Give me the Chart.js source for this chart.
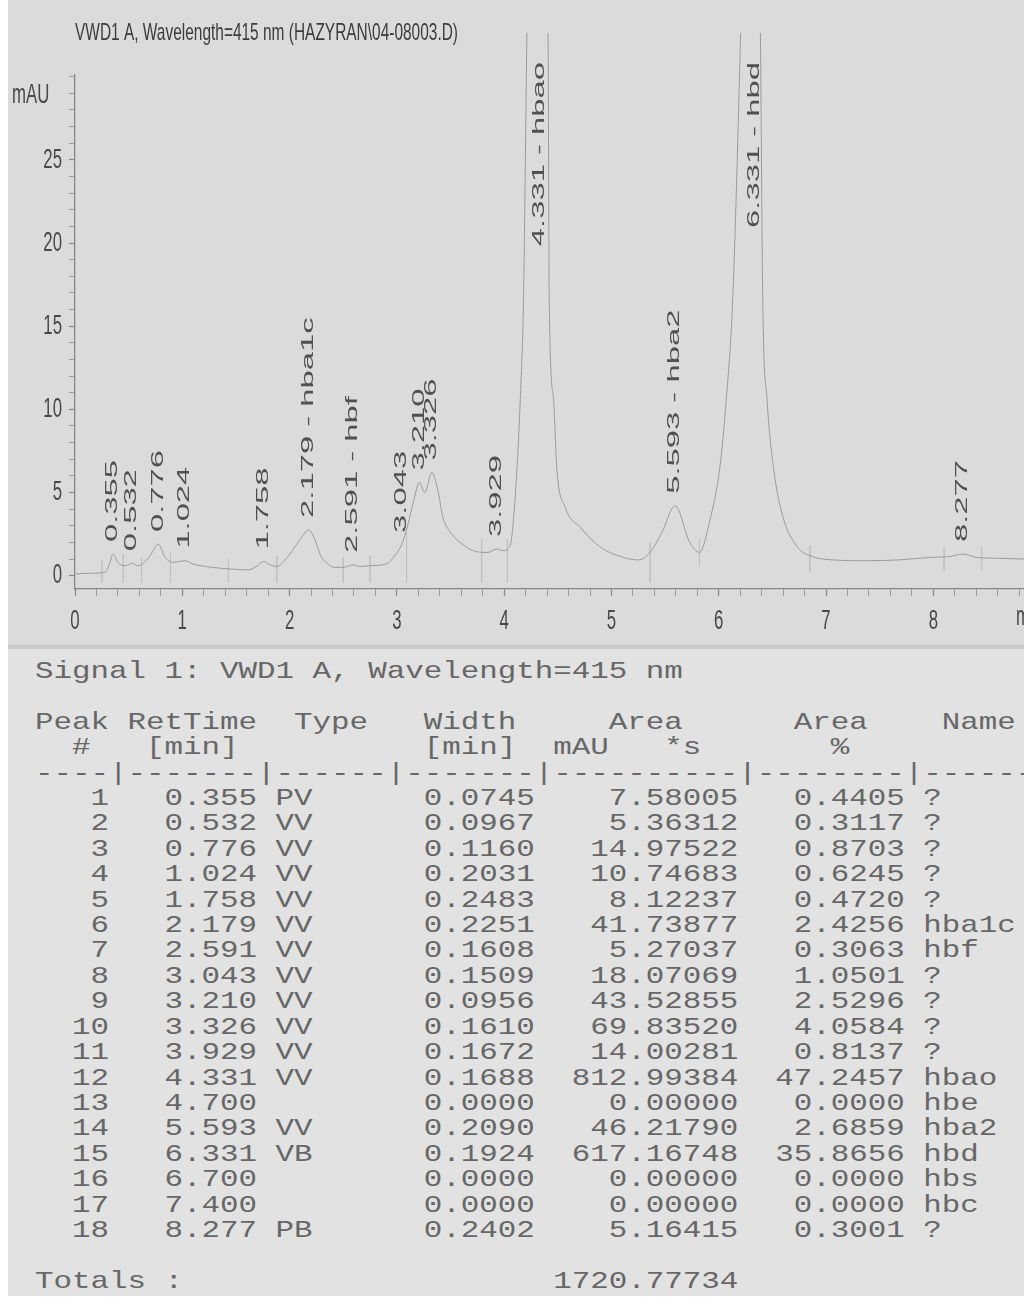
<!DOCTYPE html>
<html>
<head>
<meta charset="utf-8">
<script src="https://cdn.jsdelivr.net/npm/chart.js@4.4.1/dist/chart.umd.min.js"></script>
<style>
  html, body { margin: 0; padding: 0; background: #ffffff; }
  body { width: 1024px; height: 1300px; position: relative; overflow: hidden; }
  #paperTop { position: absolute; left: 8px; top: 0; width: 1016px; height: 648px; background: #dbdbdb; }
  #paperBottom { position: absolute; left: 8px; top: 648px; width: 1016px; height: 648px; background: #e2e2e2; }
  #fold { position: absolute; left: 8px; top: 645px; width: 1016px; height: 4px; background: #cbcbcb; }
  #chartWrap { position: absolute; left: 0; top: 0; width: 1024px; height: 650px; }
  #report { position: absolute; left: 35px; top: 659px; margin: 0; font-family: "Liberation Mono", "DejaVu Sans Mono", monospace;
            font-size: 24px; line-height: 25.4px; color: #676767; white-space: pre; transform: scaleX(1.285); transform-origin: 0 0; }
</style>
</head>
<body>
<div id="paperTop"></div>
<div id="paperBottom"></div>
<div id="fold"></div>
<div id="chartWrap"><canvas id="c" width="1024" height="650"></canvas></div>
<pre id="report"></pre>
<script>
// ---------- data ----------
const chartTitle = 'VWD1 A, Wavelength=415 nm (HAZYRAN\\04-08003.D)';
const signalTitle = 'Signal 1: VWD1 A, Wavelength=415 nm';
const yUnitLabel = 'mAU';
const xUnitLabel = 'min';

// chromatogram trace: retention time (min) and detector signal (mAU)
const traceTime = [
  0.00, 0.15, 0.28, 0.32, 0.355, 0.40, 0.46, 0.50, 0.532, 0.58, 0.63, 0.70, 0.776, 0.84, 0.92, 0.97, 1.024,
  1.10, 1.28, 1.45, 1.62, 1.70, 1.758, 1.82, 1.88, 1.95, 2.02, 2.10, 2.179, 2.24, 2.29, 2.36, 2.41, 2.50,
  2.591, 2.66, 2.75, 2.90, 2.98, 3.043, 3.10, 3.16, 3.210, 3.26, 3.326, 3.38, 3.43, 3.50, 3.59, 3.74, 3.85,
  3.929, 4.00, 4.03, 4.07, 4.12, 4.15, 4.18, 4.21, 4.27, 4.331, 4.38, 4.41, 4.42, 4.46, 4.49, 4.57, 4.71,
  4.89, 5.11, 5.25, 5.36, 5.47, 5.593, 5.73, 5.82, 5.92, 6.01, 6.07, 6.13, 6.20, 6.26, 6.331, 6.37, 6.39,
  6.41, 6.45, 6.51, 6.60, 6.73, 6.85, 7.06, 7.40, 7.68, 7.97, 8.15, 8.277, 8.40, 8.60, 8.845
];
const traceSignal = [
  0.10, 0.15, 0.20, 0.70, 1.30, 0.80, 0.60, 0.65, 0.75, 0.60, 0.70, 1.20, 1.90, 1.10, 0.80, 0.85, 0.90,
  0.70, 0.50, 0.40, 0.35, 0.60, 0.85, 0.65, 0.55, 0.90, 1.45, 2.20, 2.75, 2.10, 1.20, 0.70, 0.50, 0.50,
  0.65, 0.55, 0.60, 0.70, 1.20, 1.85, 3.00, 4.60, 5.60, 5.00, 6.20, 5.20, 3.50, 2.60, 2.00, 1.45, 1.40,
  1.60, 1.50, 1.60, 2.30, 6.50, 10.6, 16.6, 31.6, 60.0, 72.0, 55.0, 31.6, 16.6, 10.6, 6.50, 4.10, 2.90,
  1.75, 1.10, 0.95, 1.40, 2.60, 4.20, 2.00, 1.40, 3.40, 6.50, 10.6, 16.6, 31.6, 48.0, 55.0, 45.0, 31.6,
  16.6, 10.6, 6.50, 3.50, 1.75, 1.20, 0.95, 0.90, 0.95, 1.10, 1.15, 1.30, 1.10, 1.05, 1.00
];

// peak start/stop event marks (time, top and bottom of the short drop line, mAU)
const eventTimes  = [0.25, 0.45, 0.62, 0.89, 1.43, 1.88, 2.50, 2.75, 3.09, 3.79, 4.03, 5.36, 5.82, 6.85, 8.10, 8.45];
const eventTop    = [0.9, 1.3, 1.1, 1.4, 1.0, 1.2, 1.1, 1.2, 2.6, 2.2, 2.2, 2.0, 2.2, 1.8, 1.7, 1.7];
const eventBottom = [-0.4, -0.4, -0.4, -0.4, -0.4, -0.4, -0.4, -0.4, -0.4, -0.4, -0.4, -0.4, 0.6, 0.2, 0.3, 0.3];

// integration report
const peakNumbers   = [1, 2, 3, 4, 5, 6, 7, 8, 9, 10, 11, 12, 13, 14, 15, 16, 17, 18];
const peakRetTimes  = [0.355, 0.532, 0.776, 1.024, 1.758, 2.179, 2.591, 3.043, 3.210, 3.326, 3.929, 4.331, 4.700, 5.593, 6.331, 6.700, 7.400, 8.277];
const peakTypes     = ['PV', 'VV', 'VV', 'VV', 'VV', 'VV', 'VV', 'VV', 'VV', 'VV', 'VV', 'VV', '', 'VV', 'VB', '', '', 'PB'];
const peakWidths    = [0.0745, 0.0967, 0.1160, 0.2031, 0.2483, 0.2251, 0.1608, 0.1509, 0.0956, 0.1610, 0.1672, 0.1688, 0.0000, 0.2090, 0.1924, 0.0000, 0.0000, 0.2402];
const peakAreas     = [7.58005, 5.36312, 14.97522, 10.74683, 8.12237, 41.73877, 5.27037, 18.07069, 43.52855, 69.83520, 14.00281, 812.99384, 0.00000, 46.21790, 617.16748, 0.00000, 0.00000, 5.16415];
const peakAreaPct   = [0.4405, 0.3117, 0.8703, 0.6245, 0.4720, 2.4256, 0.3063, 1.0501, 2.5296, 4.0584, 0.8137, 47.2457, 0.0000, 2.6859, 35.8656, 0.0000, 0.0000, 0.3001];
const peakNames     = ['?', '?', '?', '?', '?', 'hba1c', 'hbf', '?', '?', '?', '?', 'hbao', 'hbe', 'hba2', 'hbd', 'hbs', 'hbc', '?'];
const totalArea     = '1720.77734';

// axes
const xRange = [0, 8.845];
const yRange = [-0.8, 30.1];
const xLabelTicks = [0, 1, 2, 3, 4, 5, 6, 7, 8];
const yLabelTicks = [0, 5, 10, 15, 20, 25];
const xMinorStep = 0.2;
const yMinorStep = 1;

// ---------- report table (text) ----------
(function buildReport() {
  const lines = [];
  lines.push(signalTitle);
  lines.push('');
  lines.push('Peak RetTime  Type   Width     Area      Area    Name');
  lines.push('  #   [min]          [min]  mAU   *s       %');
  lines.push('----|-------|------|-------|----------|--------|------');
  for (let i = 0; i < peakNumbers.length; i++) {
    const row =
      String(peakNumbers[i]).padStart(4) + '   ' +
      peakRetTimes[i].toFixed(3) + ' ' +
      peakTypes[i].padEnd(2) + '      ' +
      peakWidths[i].toFixed(4) + ' ' +
      peakAreas[i].toFixed(5).padStart(10) + '  ' +
      peakAreaPct[i].toFixed(4).padStart(7) + ' ' +
      peakNames[i];
    lines.push(row);
  }
  lines.push('');
  lines.push('Totals :'.padEnd(28) + totalArea.padStart(10));
  document.getElementById('report').textContent = lines.join('\n');
})();

// ---------- chart ----------
function drawText(ctx, text, x, y, o) {
  ctx.save();
  ctx.translate(x, y);
  if (o.rotate) ctx.rotate(o.rotate);
  ctx.scale(o.sx || 1, o.sy || 1);
  ctx.font = o.font;
  ctx.fillStyle = o.color;
  ctx.textAlign = o.align || 'left';
  ctx.textBaseline = o.baseline || 'middle';
  ctx.fillText(text, 0, 0);
  ctx.restore();
}

const AXIS_FONT = '28px "Liberation Sans", Arial, sans-serif';
const AXIS_SX = 0.6;
const LABEL_FONT = '16px "Liberation Sans", Arial, sans-serif';
const LABEL_STRETCH = 2.05;

const annotationPlugin = {
  id: 'hplcText',
  afterDraw(chart) {
    const ctx = chart.ctx;
    const xs = chart.scales.x, ys = chart.scales.y;
    const area = chart.chartArea;

    drawText(ctx, chartTitle, area.left, 33, { font: '24px "Liberation Sans", Arial, sans-serif', sx: 0.644, color: '#3c3c3c' });
    drawText(ctx, yUnitLabel, 12, 95, { font: AXIS_FONT, sx: AXIS_SX, color: '#484848' });
    yLabelTicks.forEach(v => {
      drawText(ctx, String(v), area.left - 13, ys.getPixelForValue(v), { font: AXIS_FONT, sx: AXIS_SX, align: 'right', color: '#484848' });
    });
    xLabelTicks.forEach(v => {
      drawText(ctx, String(v), xs.getPixelForValue(v), area.bottom + 32, { font: AXIS_FONT, sx: AXIS_SX, align: 'center', color: '#484848' });
    });
    drawText(ctx, xUnitLabel, area.right - 8, area.bottom + 28, { font: AXIS_FONT, sx: AXIS_SX, align: 'left', color: '#484848' });

    ctx.save();
    ctx.font = LABEL_FONT;
    const topLimit = 62;
    peakRetTimes.forEach((rt, i) => {
      if (!peakTypes[i]) return;
      const idx = traceTime.indexOf(rt);
      const apex = idx >= 0 ? traceSignal[idx] : 0;
      const text = peakNames[i] === '?' ? rt.toFixed(3) : rt.toFixed(3) + ' - ' + peakNames[i];
      const len = ctx.measureText(text).width * LABEL_STRETCH;
      const bottom = Math.max(ys.getPixelForValue(apex) - 12, topLimit + len);
      drawText(ctx, text, xs.getPixelForValue(rt), bottom, { font: LABEL_FONT, rotate: -Math.PI / 2, sx: LABEL_STRETCH, color: '#505050' });
    });
    ctx.restore();
  }
};

function isMajorX(v) { return xLabelTicks.some(t => Math.abs(t - v) < 1e-6); }
function isMajorY(v) { return yLabelTicks.some(t => Math.abs(t - v) < 1e-6); }

const eventPoints = [];
eventTimes.forEach((t, i) => {
  eventPoints.push({ x: t, y: eventTop[i] }, { x: t, y: eventBottom[i] }, { x: t, y: null });
});

new Chart(document.getElementById('c'), {
  type: 'line',
  data: {
    datasets: [{
      data: traceTime.map((t, i) => ({ x: t, y: traceSignal[i] })),
      borderColor: '#9a9a9a',
      borderWidth: 1,
      pointRadius: 0,
      fill: false,
      cubicInterpolationMode: 'monotone',
      clip: { left: 0, right: 0, bottom: 0, top: 42 }
    }, {
      data: eventPoints,
      borderColor: '#bfbfbf',
      borderWidth: 0.8,
      pointRadius: 0,
      fill: false,
      tension: 0,
      spanGaps: false
    }]
  },
  options: {
    responsive: false,
    animation: false,
    events: [],
    layout: { padding: { top: 75, left: 0, right: 0, bottom: 0 } },
    plugins: { legend: { display: false }, tooltip: { enabled: false }, title: { display: false } },
    scales: {
      x: {
        type: 'linear', min: xRange[0], max: xRange[1], bounds: 'data',
        border: { display: true, color: '#858585', width: 1.3 },
        grid: {
          drawOnChartArea: false, drawTicks: true, tickLength: 7,
          tickColor: '#8a8a8a',
          tickWidth: c => (c.tick && isMajorX(c.tick.value)) ? 1.3 : 0.8
        },
        ticks: { display: false },
        afterBuildTicks: s => {
          const t = [];
          const n = Math.floor((s.max - s.min) / xMinorStep + 1e-6);
          for (let i = 0; i <= n; i++) t.push({ value: +(s.min + i * xMinorStep).toFixed(4) });
          s.ticks = t;
        },
        afterFit: s => { s.height = 61; }
      },
      y: {
        type: 'linear', min: yRange[0], max: yRange[1], bounds: 'data',
        border: { display: true, color: '#858585', width: 1.3 },
        grid: {
          drawOnChartArea: false, drawTicks: true, tickLength: 6,
          tickColor: '#8a8a8a',
          tickWidth: c => (c.tick && isMajorY(c.tick.value)) ? 1.3 : 0.8
        },
        ticks: { display: false },
        afterBuildTicks: s => {
          const t = [];
          for (let v = Math.ceil(s.min); v <= Math.floor(s.max); v += yMinorStep) t.push({ value: v });
          s.ticks = t;
        },
        afterFit: s => { s.width = 75; }
      }
    }
  },
  plugins: [annotationPlugin]
});
</script>
</body>
</html>
